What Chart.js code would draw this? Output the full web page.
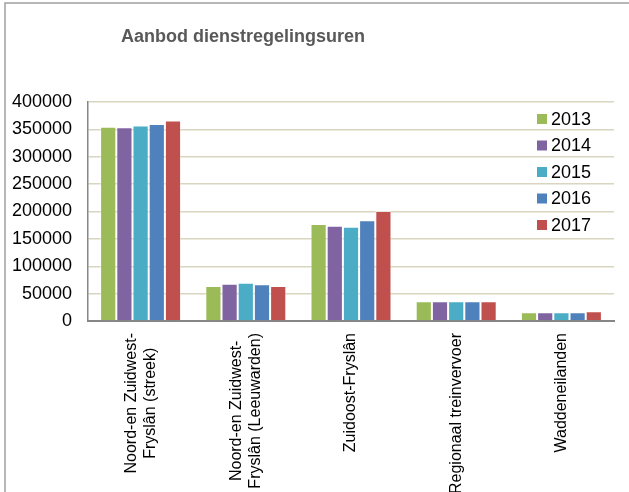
<!DOCTYPE html>
<html>
<head>
<meta charset="utf-8">
<script src="https://cdn.jsdelivr.net/npm/chart.js@4"></script>
<style>
  body { margin: 0; background: #fff; }
</style>
</head>
<body>
<canvas id="aanbodChart" width="629" height="492"></canvas>
<script>
  // category labels (multi-line ones as arrays)
  const categories = [
    ['Noord-en Zuidwest-', 'Fryslân (streek)'],
    ['Noord-en Zuidwest-', 'Fryslân (Leeuwarden)'],
    'Zuidoost-Fryslân',
    'Regionaal treinvervoer',
    'Waddeneilanden'
  ];
  const years = ['2013', '2014', '2015', '2016', '2017'];

  const uren2013 = [355000, 64000, 177000, 36000, 16000];
  const uren2014 = [354000, 68000, 174000, 36000, 16000];
  const uren2015 = [357000, 70000, 172000, 36000, 16000];
  const uren2016 = [360000, 67000, 184000, 36000, 16000];
  const uren2017 = [366000, 64000, 201000, 36000, 18000];

  const yTicks = [0, 50000, 100000, 150000, 200000, 250000, 300000, 350000, 400000];

  const FONT = "'Liberation Sans', Arial, sans-serif";
  const colors = ['#9BBB59', '#8064A2', '#4BACC6', '#4F81BD', '#C0504D'];
  const series = [uren2013, uren2014, uren2015, uren2016, uren2017];

  // frame, title, legend and rotated category labels
  const decorPlugin = {
    id: 'decor',
    beforeDraw(chart) {
      const c = chart.ctx;
      c.save();
      c.strokeStyle = '#A0A0A0';
      c.lineWidth = 1.5;
      c.strokeRect(5, 3, 640, 520);
      c.restore();
    },
    afterDraw(chart) {
      const c = chart.ctx;
      c.save();
      // title
      c.font = 'bold 18px ' + FONT;
      c.fillStyle = '#595959';
      c.textAlign = 'center';
      c.textBaseline = 'middle';
      c.fillText('Aanbod dienstregelingsuren', 243, 37);

      // legend
      c.font = '18px ' + FONT;
      c.textAlign = 'left';
      chart.data.datasets.forEach((ds, i) => {
        const y = 119 + i * 26.5;
        c.fillStyle = ds.backgroundColor;
        c.fillRect(537, y - 5, 10, 10);
        c.fillStyle = '#000';
        c.fillText(ds.label, 551, y + 1);
      });

      // x labels, rotated, reading upwards
      const xs = chart.scales.x;
      c.font = '16px ' + FONT;
      c.fillStyle = '#000';
      c.textAlign = 'center';
      const lineH = 19;
      categories.forEach((lab, i) => {
        const lines = Array.isArray(lab) ? lab : [lab];
        const maxW = Math.max(...lines.map(l => c.measureText(l).width));
        const px = xs.getPixelForTick(i);
        c.save();
        c.translate(px, 333);
        c.rotate(-Math.PI / 2);
        lines.forEach((l, j) => {
          const off = (j - (lines.length - 1) / 2) * lineH;
          c.fillText(l, -maxW / 2, off);
        });
        c.restore();
      });
      c.restore();
    }
  };

  const ctx = document.getElementById('aanbodChart').getContext('2d');
  new Chart(ctx, {
    type: 'bar',
    data: {
      labels: categories,
      datasets: years.map((y, i) => ({
        label: y,
        data: series[i],
        backgroundColor: colors[i],
        borderColor: 'rgba(255,255,255,0.45)',
        borderWidth: 1,
        categoryPercentage: 0.77,
        barPercentage: 1
      }))
    },
    options: {
      responsive: false,
      animation: false,
      layout: { padding: { left: 0, top: 102, right: 15, bottom: 0 } },
      plugins: {
        legend: { display: false },
        title: { display: false },
        tooltip: { enabled: false }
      },
      scales: {
        x: {
          grid: { display: false },
          border: { color: '#868686', width: 2 },
          ticks: { display: false },
          afterFit: s => { s.height = 171; }
        },
        y: {
          min: 0,
          max: 400000,
          afterBuildTicks: s => { s.ticks = yTicks.map(v => ({ value: v })); },
          grid: { color: '#DAD5BE', lineWidth: 1.5, drawTicks: false },
          border: { color: '#868686', width: 1.5 },
          ticks: {
            padding: 16,
            color: '#000',
            font: { family: FONT, size: 18 },
            callback: v => String(v)
          },
          afterFit: s => { s.width = 88; }
        }
      }
    },
    plugins: [decorPlugin]
  });
</script>
</body>
</html>
